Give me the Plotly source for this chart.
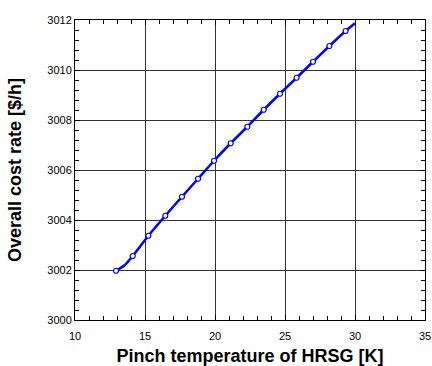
import plotly.graph_objects as go

# Marker data (Pinch temperature [K], overall cost rate [$/h])
pinch_t = [12.93, 14.12, 15.24, 16.45, 17.64, 18.79, 19.93, 21.12, 22.31,
           23.48, 24.64, 25.83, 27.00, 28.17, 29.33]
cost_rate = [3001.97, 3002.56, 3003.37, 3004.17, 3004.93, 3005.65, 3006.37,
             3007.07, 3007.73, 3008.41, 3009.05, 3009.69, 3010.33, 3010.96, 3011.56]

# Continuous curve data
curve_t = [12.93, 13.57, 14.12, 15.24, 16.45, 17.64, 18.79, 19.93, 21.12, 22.31,
           23.48, 24.64, 25.83, 27.00, 28.17, 29.33, 30.0]
curve_cost = [3001.97, 3002.20, 3002.56, 3003.37, 3004.17, 3004.93, 3005.65, 3006.37,
              3007.07, 3007.73, 3008.41, 3009.05, 3009.69, 3010.33, 3010.96, 3011.56, 3011.87]

x_ticks = [10, 15, 20, 25, 30, 35]
y_ticks = [3000, 3002, 3004, 3006, 3008, 3010, 3012]
x_range = [10, 35]
y_range = [3000, 3012]

FONT = "Liberation Sans, Arial, sans-serif"

fig = go.Figure()
fig.add_trace(go.Scatter(x=curve_t, y=curve_cost, mode="lines",
                         line=dict(color="#0000FF", width=2.5, shape="spline", smoothing=0.6),
                         showlegend=False, hoverinfo="skip"))
fig.add_trace(go.Scatter(x=pinch_t, y=cost_rate, mode="markers",
                         marker=dict(symbol="circle", size=5, color="white",
                                     line=dict(color="#0000FF", width=1.2)),
                         showlegend=False))
# invisible trace to activate mirror axes (top/right ticks)
fig.add_trace(go.Scatter(x=[pinch_t[0]], y=[cost_rate[0]], xaxis="x2", yaxis="y2",
                         mode="markers", marker=dict(opacity=0), showlegend=False,
                         hoverinfo="skip"))

axis_common = dict(
    showline=True, linecolor="black", linewidth=1, mirror=True,
    ticks="inside", ticklen=5, tickcolor="black", tickwidth=1,
    showgrid=True, gridcolor="#333333", gridwidth=1,
    zeroline=False, automargin=False,
    tickfont=dict(family=FONT, size=11, color="black"),
)

fig.update_layout(
    xaxis=dict(**axis_common, range=x_range, tickvals=x_ticks,
               ticktext=[str(v) for v in x_ticks], ticklabelstandoff=6,
               minor=dict(dtick=1, tick0=10, ticks="inside", ticklen=4,
                          tickcolor="black", showgrid=False),
               title=dict(text="<b>Pinch temperature of HRSG [K]</b>",
                          font=dict(family=FONT, size=18, color="black"),
                          standoff=10)),
    yaxis=dict(**axis_common, range=y_range, tickvals=y_ticks,
               ticktext=[str(v) for v in y_ticks],
               minor=dict(dtick=0.4, tick0=3000, ticks="inside", ticklen=4,
                          tickcolor="black", showgrid=False),
               title=dict(text="<b>Overall cost rate [$/h]</b>",
                          font=dict(family=FONT, size=18, color="black"),
                          standoff=21)),
    xaxis2=dict(overlaying="x", side="top", range=x_range, tickvals=x_ticks,
                showticklabels=False, ticks="inside", ticklen=5, tickcolor="black",
                showgrid=False, zeroline=False, showline=False, automargin=False,
                minor=dict(dtick=1, tick0=10, ticks="inside", ticklen=4,
                           tickcolor="black", showgrid=False)),
    yaxis2=dict(overlaying="y", side="right", range=y_range, tickvals=y_ticks,
                showticklabels=False, ticks="inside", ticklen=5, tickcolor="black",
                showgrid=False, zeroline=False, showline=False, automargin=False,
                minor=dict(dtick=0.4, tick0=3000, ticks="inside", ticklen=4,
                           tickcolor="black", showgrid=False)),
    width=432, height=366, margin=dict(l=75, r=7, t=20, b=46),
    plot_bgcolor="white", paper_bgcolor="white",
)

fig.write_html("out.html")
